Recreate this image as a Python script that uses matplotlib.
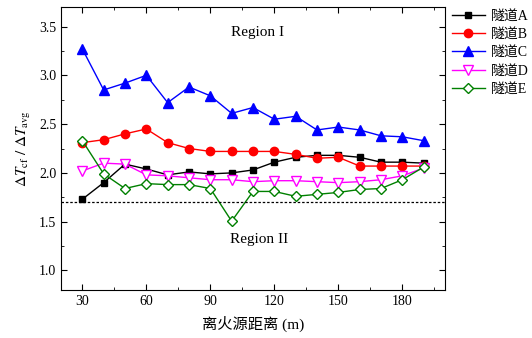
import matplotlib

matplotlib.use("Agg")
import matplotlib.pyplot as plt
from matplotlib.ticker import MultipleLocator

plt.rcParams["font.family"] = ["Liberation Serif", "Noto Sans CJK SC"]
plt.rcParams["mathtext.fontset"] = "stix"
plt.rcParams["font.size"] = 10

dist = [30, 40, 50, 60, 70, 80, 90, 100, 110, 120, 130, 140, 150, 160, 170, 180, 190]

tunnel_a = [1.73, 1.90, 2.09, 2.04, 1.98, 2.01, 1.99, 2.00, 2.03, 2.11, 2.16, 2.18, 2.18, 2.16, 2.11, 2.11, 2.10]
tunnel_b = [2.31, 2.34, 2.40, 2.45, 2.31, 2.25, 2.22, 2.22, 2.22, 2.22, 2.19, 2.15, 2.16, 2.07, 2.07, 2.07, 2.07]
tunnel_c = [3.27, 2.85, 2.92, 3.00, 2.72, 2.88, 2.79, 2.61, 2.67, 2.55, 2.58, 2.44, 2.47, 2.44, 2.38, 2.37, 2.33]
tunnel_d = [2.02, 2.10, 2.09, 1.98, 1.97, 1.95, 1.93, 1.93, 1.91, 1.92, 1.92, 1.91, 1.90, 1.91, 1.93, 1.97, 2.05]
tunnel_e = [2.33, 1.99, 1.84, 1.89, 1.88, 1.88, 1.84, 1.505, 1.81, 1.81, 1.76, 1.78, 1.80, 1.83, 1.84, 1.93, 2.06]

labels = ["隧道A", "隧道B", "隧道C", "隧道D", "隧道E"]
threshold = 1.7

fig = plt.figure(figsize=(5.32, 3.38), dpi=100)
ax = fig.add_axes([61 / 532, 1 - 290 / 338, 384 / 532, 283 / 338])

styles = [
    dict(color="black", marker="s", mfc="black"),
    dict(color="red", marker="o", mfc="red"),
    dict(color="blue", marker="^", mfc="blue"),
    dict(color="magenta", marker="v", mfc="white"),
    dict(color="green", marker="D", mfc="white"),
]
sizes = [5, 6, 6.5, 6.5, 5]

for ys, lab, st, ms in zip([tunnel_a, tunnel_b, tunnel_c, tunnel_d, tunnel_e], labels, styles, sizes):
    ax.plot(dist, ys, label=lab, lw=1.0, ms=ms, mec=st["color"], mew=1.0, **st)

ax.axhline(threshold, color="black", ls=(0, (2, 1.5)), lw=0.9)

ax.text(112, 3.44, "Region I", ha="center", va="center", fontsize=11)
ax.text(113, 1.32, "Region II", ha="center", va="center", fontsize=11)

ax.set_xlim(20, 200)
ax.set_ylim(0.8, 3.7)
ax.xaxis.set_major_locator(MultipleLocator(30))
ax.xaxis.set_minor_locator(MultipleLocator(15))
ax.yaxis.set_major_locator(MultipleLocator(0.5))
ax.yaxis.set_minor_locator(MultipleLocator(0.25))
ax.tick_params(which="both", direction="in", top=True, right=True)
ax.tick_params(which="major", length=4)
ax.tick_params(which="minor", length=2)

ax.set_xlabel("离火源距离 (m)", fontsize=11, labelpad=6)
ax.set_ylabel(r"$\mathit{\Delta T}_{\rm cf}\ /\ \mathit{\Delta T}_{\rm avg}$", fontsize=11, labelpad=4)

ax.legend(
    loc="upper left",
    bbox_to_anchor=(446 / 532, 1 - 4 / 338),
    bbox_transform=fig.transFigure,
    frameon=False,
    fontsize=10,
    handlelength=2.4,
    handletextpad=0.4,
    labelspacing=0.38,
    borderaxespad=0,
)

fig.savefig("out.png", dpi=100)
